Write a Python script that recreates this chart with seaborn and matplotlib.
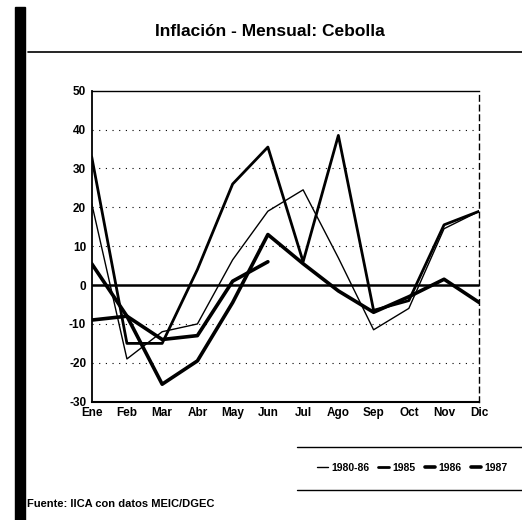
import numpy as np
import pandas as pd
import matplotlib
matplotlib.use("Agg")
import matplotlib.pyplot as plt
import seaborn as sns
from matplotlib.lines import Line2D
from matplotlib.patches import Rectangle

# Datos (inflacion mensual, %)
meses = ["Ene", "Feb", "Mar", "Abr", "May", "Jun", "Jul", "Ago", "Sep", "Oct", "Nov", "Dic"]
prom_1980_86 = [21, -19, -12, -10, 6.5, 19, 24.5, 7, -11.5, -6, 14.5, 19]
inf_1985 = [33, -15, -15, 4, 26, 35.5, 6, 38.5, -6.5, -4, 15.5, 19]
inf_1986 = [5.5, -8, -25.5, -19.5, -4.5, 13, 5.5, -1.5, -7, -3, 1.5, -4.5]
inf_1987 = [-9, -8, -14, -13, 1, 6, np.nan, np.nan, np.nan, np.nan, np.nan, np.nan]

series = ["1980-86", "1985", "1986", "1987"]
valores = [prom_1980_86, inf_1985, inf_1986, inf_1987]
grosor = [1.0, 2.0, 2.6, 2.6]

df = pd.DataFrame({
    "pos": np.tile(np.arange(len(meses)), len(series)),
    "valor": np.concatenate(valores),
    "serie": np.repeat(series, len(meses)),
})

sns.set_theme(style="white")
plt.rcParams["font.family"] = ["Liberation Sans", "DejaVu Sans"]
plt.rcParams["font.weight"] = "bold"
plt.rcParams["axes.unicode_minus"] = False
for k in ["text.color", "axes.labelcolor", "xtick.color", "ytick.color"]:
    plt.rcParams[k] = "black"

fig = plt.figure(figsize=(5.22, 5.20), dpi=100)
ax = fig.add_axes([91.7 / 522, 1 - 401.7 / 520, 387.6 / 522, 311 / 520])

for s, lw in zip(series, grosor):
    sns.lineplot(data=df[df["serie"] == s], x="pos", y="valor", color="black",
                 linewidth=lw, ax=ax, legend=False, sort=False)

# cuadricula punteada y linea en cero
for g in [40, 30, 20, 10, -10, -20]:
    ax.axhline(g, color="black", linewidth=0.8, linestyle=(0, (1, 5)), zorder=0)
ax.axhline(0, color="black", linewidth=1.8, zorder=1)

ax.set_xlim(0, 11)
ax.set_ylim(-30, 50)
ax.set_yticks(range(-30, 51, 10))
ax.set_xticks(range(len(meses)))
ax.set_xticklabels(meses)
ax.set_xlabel("")
ax.set_ylabel("")
ax.tick_params(axis="both", length=0, labelsize=8.5, pad=4, colors="black")
for lab in ax.get_xticklabels() + ax.get_yticklabels():
    lab.set_fontweight("bold")

for side in ["left", "bottom", "top", "right"]:
    ax.spines[side].set_visible(True)
    ax.spines[side].set_color("black")
ax.spines["left"].set_linewidth(1.3)
ax.spines["bottom"].set_linewidth(1.5)
ax.spines["top"].set_linewidth(1.0)
ax.spines["right"].set_linewidth(1.0)
ax.spines["right"].set_linestyle((0, (4, 3)))

# titulo y adornos de la pagina
fig.text(0.517, 1 - 32 / 520, "Inflación - Mensual: Cebolla", ha="center", va="center",
         fontsize=12.5, fontweight="bold", color="black")
fig.add_artist(Line2D([28 / 522, 1.0], [1 - 52 / 520] * 2, color="black", linewidth=1.2))
fig.add_artist(Rectangle((15 / 522, 0), 10 / 522, 1 - 7 / 520, color="black",
                         transform=fig.transFigure))

# leyenda
handles = [Line2D([], [], color="black", linewidth=lw) for lw in grosor]
fig.legend(handles, series, loc="center", bbox_to_anchor=(0.79, 1 - 468 / 520),
           ncol=4, frameon=False, handlelength=1.0, handletextpad=0.3,
           columnspacing=0.9, prop={"weight": "bold", "size": 7.5})
fig.add_artist(Line2D([297 / 522, 1.0], [1 - 447 / 520] * 2, color="black", linewidth=1.0))
fig.add_artist(Line2D([297 / 522, 1.0], [1 - 490 / 520] * 2, color="black", linewidth=1.0))

fig.text(27 / 522, 1 - 504 / 520, "Fuente: IICA con datos MEIC/DGEC", ha="left", va="center",
         fontsize=8, fontweight="bold", color="black")

fig.savefig("out.png", dpi=100)
